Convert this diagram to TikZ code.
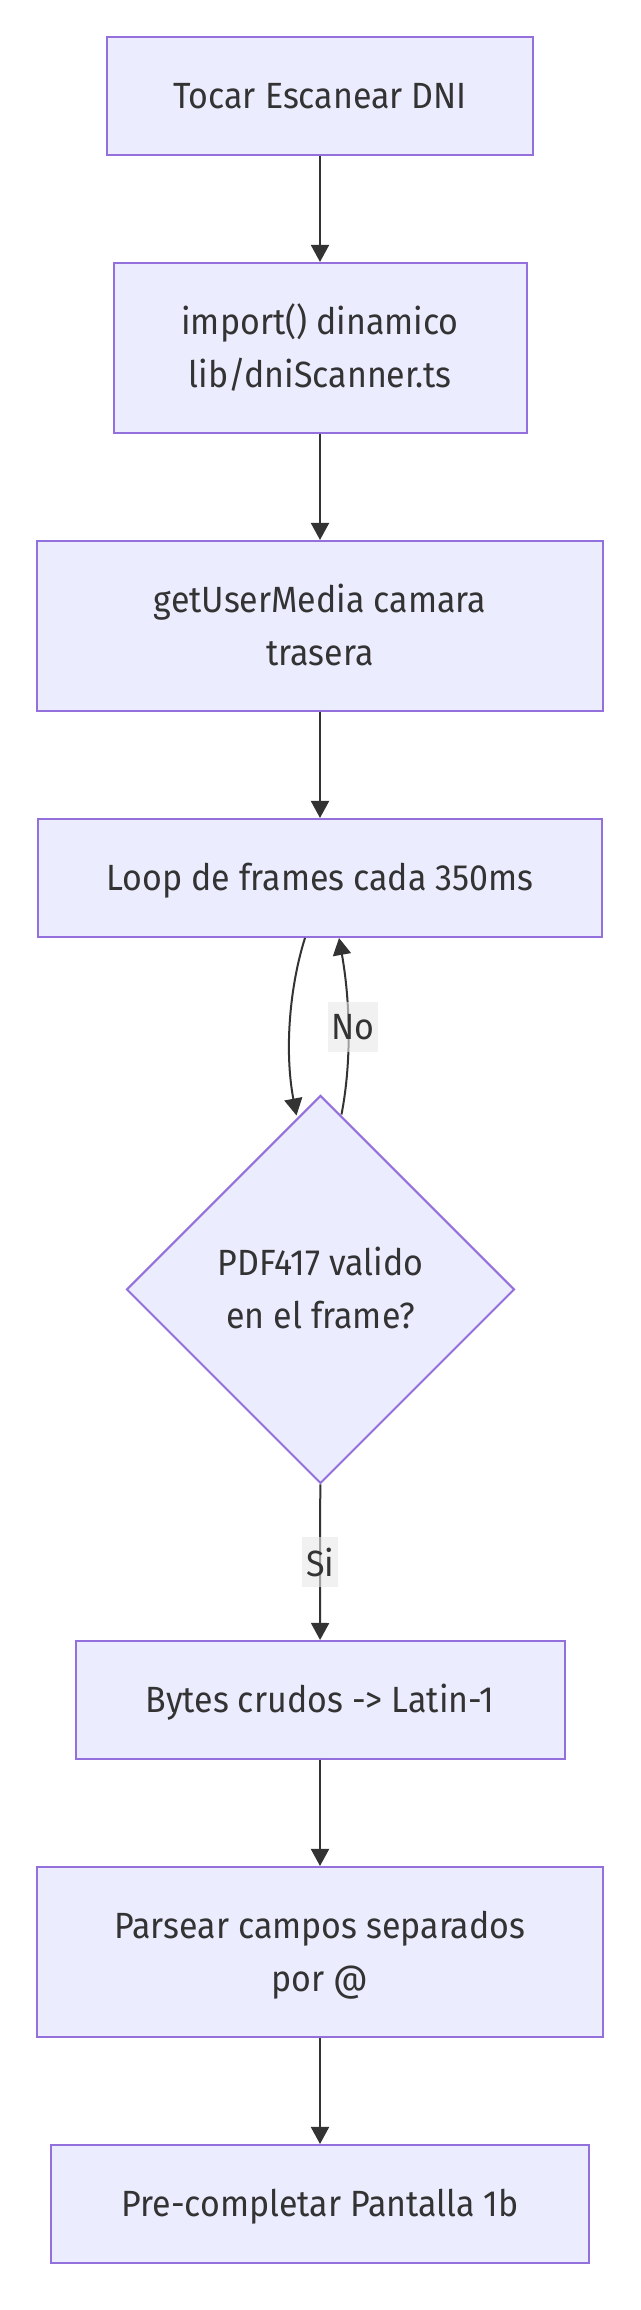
\documentclass[tikz,border=0pt]{standalone}
\usepackage{fontspec}
\setmainfont{Fira Sans}[FakeStretch=0.93]
\usetikzlibrary{arrows.meta,shapes.geometric,calc}
\definecolor{nodefill}{HTML}{ECECFF}
\definecolor{nodeline}{HTML}{9370DB}
\definecolor{ink}{HTML}{333333}
\definecolor{lblfill}{HTML}{E8E8E8}
\begin{document}
\begin{tikzpicture}[x=1pt,y=1pt,
  box/.style={draw=nodeline,fill=nodefill,line width=2pt,rectangle,inner sep=0pt,minimum height=#1},
  box/.default=118pt,
  dia/.style={draw=nodeline,fill=nodefill,line width=2pt,diamond,aspect=1,inner sep=0pt,minimum width=388pt,minimum height=388pt},
  txt/.style={text=ink,anchor=base,inner sep=0pt,font=\fontsize{36.5}{53}\selectfont},
  lbl/.style={fill=lblfill,fill opacity=0.6,text opacity=1,text=ink,inner sep=0pt,minimum height=50pt,font=\fontsize{36.5}{53}\selectfont},
  arr/.style={draw=ink,line width=2pt,-{Triangle[length=17pt,width=18pt]}}]
\useasboundingbox (0,0) rectangle (640,2310);
% boxes
\node[box,minimum width=426pt] (b1) at (320,2214) {};
\node[box=170pt,minimum width=413pt] (b2) at (320,1962) {};
\node[box=170pt,minimum width=566pt] (b3) at (320,1684) {};
\node[box,minimum width=564pt] (b4) at (320,1432) {};
\node[dia] (d) at (320.5,1020.5) {};
\node[box,minimum width=489pt] (b5) at (320,610) {};
\node[box=170pt,minimum width=566pt] (b6) at (320,358) {};
\node[box,minimum width=538pt] (b7) at (320,106) {};
% texts
\node[txt] (t1) at (320,2201.2) {Tocar Escanear DNI};
\node[txt] (t2a) at (320,1975.7) {import() dinamico};
\node[txt] (t2b) at (320,1922.7) {lib/dniScanner.ts};
\node[txt] (t3a) at (320,1697.7) {getUserMedia camara};
\node[txt] (t3b) at (320,1644.7) {trasera};
\node[txt] (t4) at (320,1419.2) {Loop de frames cada 350ms};
\node[txt] (tda) at (320.5,1034.2) {PDF417 valido};
\node[txt] (tdb) at (320.5,981.2) {en el frame?};
\node[txt] (t5) at (320,597.2) {Bytes crudos -> Latin-1};
\node[txt] (t6a) at (320,371.7) {Parsear campos separados};
\node[txt] (t6b) at (320,318.7) {por @};
\node[txt] (t7) at (320,93.2) {Pre-completar Pantalla 1b};
% edges
\draw[arr] (b1) -- (b2);
\draw[arr] (b2) -- (b3);
\draw[arr] (b3) -- (b4);
\coordinate (l0) at ($(b4.south)+(-15,0)$);
\coordinate (l1) at ($(d.north)+(-24,-21)$);
\coordinate (r0) at ($(d.north)+(21,-20)$);
\coordinate (r1) at ($(b4.south)+(19,0)$);
\draw[arr] (l0) .. controls (290,1325) and (284,1260) .. (l1);
\draw[arr] (r0) .. controls (352,1250) and (350,1310) .. (r1);
\node[lbl,minimum width=50pt] (no) at (353,1283) {No};
\draw[arr] (d) -- node[lbl,minimum width=36pt] (si) {Si} (b5);
\draw[arr] (b5) -- (b6);
\draw[arr] (b6) -- (b7);
\end{tikzpicture}
\end{document}
